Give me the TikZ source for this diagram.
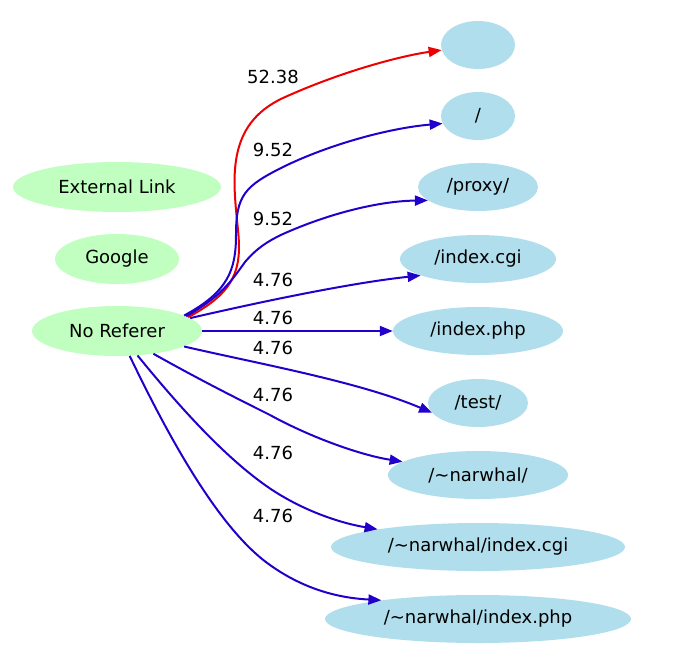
\documentclass[tikz,border=0pt]{standalone}
\usepackage{fontspec}
\setmainfont{DejaVu Sans}
\usetikzlibrary{shapes.geometric,arrows.meta}
\definecolor{gfill}{HTML}{C1FFC1}
\definecolor{bfill}{HTML}{B0DEEC}
\definecolor{eblue}{HTML}{2200CC}
\definecolor{ered}{HTML}{EE0000}
\begin{document}
\begin{tikzpicture}[x=1pt,y=-1pt,
  every node/.style={font=\fontsize{18}{21}\selectfont},
  gnode/.style={ellipse,fill=gfill,inner sep=0pt,minimum height=50pt},
  bnode/.style={ellipse,fill=bfill,inner sep=0pt,minimum height=48pt},
  lbl/.style={inner sep=0pt},
  edge/.style={draw=eblue,line width=2pt,-{Triangle[length=13pt,width=10pt]}},
  redge/.style={edge,draw=ered}]
\useasboundingbox (0,0) rectangle (673,665);
% left nodes
\node[gnode,minimum width=208pt] (ext) at (117,187) {External Link};
\node[gnode,minimum width=124pt] (ggl) at (117,259) {Google};
\node[gnode,minimum width=170pt] (nr) at (117,331) {No Referer};
% right nodes
\node[bnode,minimum width=74pt] (t0) at (478,45) {};
\node[bnode,minimum width=74pt] (t1) at (478,116) {/};
\node[bnode,minimum width=120pt] (t2) at (478,187) {/proxy/};
\node[bnode,minimum width=156pt] (t3) at (478,259) {/index.cgi};
\node[bnode,minimum width=170pt] (t4) at (478,331) {/index.php};
\node[bnode,minimum width=100pt] (t5) at (478,403) {/test/};
\node[bnode,minimum width=180pt] (t6) at (478,475) {/\char"7E narwhal/};
\node[bnode,minimum width=294pt] (t7) at (478,547) {/\char"7E narwhal/index.cgi};
\node[bnode,minimum width=306pt] (t8) at (478,619) {/\char"7E narwhal/index.php};
% edges
\draw[redge] (nr.11) .. controls (235,292) and (242,270) .. (238,230)
  .. controls (233,180) and (225,125) .. (283,98)
  .. controls (340,72) and (400,56) .. (t0.188);
\draw[edge] (nr.13) .. controls (228,292) and (236,270) .. (236,235)
  .. controls (236,195) and (245,186) .. (283,167)
  .. controls (330,144) and (390,128) .. (t1.192);
\draw[edge] (nr.12) .. controls (222,296) and (232,280) .. (245,262)
  .. controls (257,248) and (268,241) .. (283,234)
  .. controls (330,213) and (380,201) .. (t2.195);
\draw[edge] (nr.10) .. controls (260,302) and (350,283) .. (t3.196);
\draw[edge] (nr.east) -- (t4.west);
\draw[edge] (nr.-13) .. controls (260,364) and (360,382) .. (t5.192);
\draw[edge] (nr.-32) .. controls (200,380) and (240,400) .. (270,415)
  .. controls (310,437) and (360,455) .. (t6.170);
\draw[edge] (nr.-50) .. controls (190,420) and (230,460) .. (265,485)
  .. controls (300,510) and (340,523) .. (t7.170);
\draw[edge] (nr.-63) .. controls (170,440) and (220,530) .. (270,565)
  .. controls (305,590) and (340,598) .. (t8.169);
% labels
\node[lbl] (l0) at (273,77) {52.38};
\node[lbl] (l1) at (273,150) {9.52};
\node[lbl] (l2) at (273,219) {9.52};
\node[lbl] (l3) at (273,280) {4.76};
\node[lbl] (l4) at (273,318) {4.76};
\node[lbl] (l5) at (273,348) {4.76};
\node[lbl] (l6) at (273,395) {4.76};
\node[lbl] (l7) at (273,453) {4.76};
\node[lbl] (l8) at (273,516) {4.76};
\end{tikzpicture}
\end{document}
